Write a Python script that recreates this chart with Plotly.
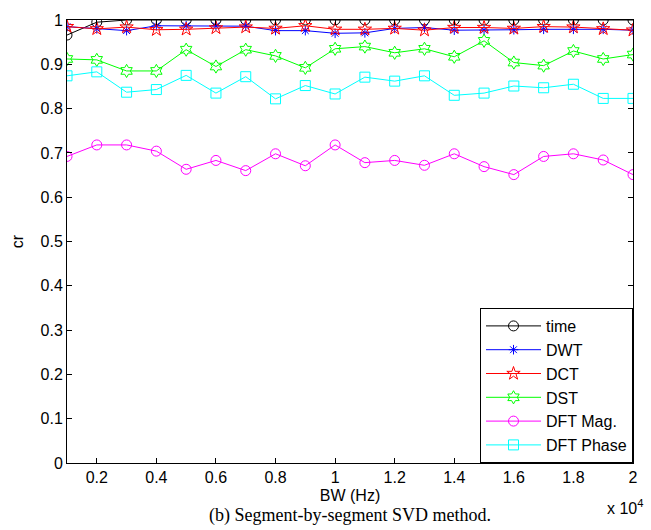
import plotly.graph_objects as go

bw = [1000, 2000, 3000, 4000, 5000, 6000, 7000, 8000, 9000, 10000,
      11000, 12000, 13000, 14000, 15000, 16000, 17000, 18000, 19000, 20000]

time_cr = [0.966, 0.995, 1.0, 1.0, 1.0, 1.0, 1.0, 1.0, 1.0, 1.0,
           1.0, 1.0, 1.0, 1.0, 1.0, 1.0, 1.0, 1.0, 1.0, 1.0]
dwt_cr = [0.985, 0.980, 0.976, 0.987, 0.987, 0.987, 0.986, 0.976, 0.976, 0.970,
          0.971, 0.981, 0.983, 0.977, 0.977, 0.978, 0.979, 0.979, 0.979, 0.977]
dct_cr = [0.985, 0.980, 0.984, 0.978, 0.979, 0.982, 0.984, 0.981, 0.987, 0.979,
          0.979, 0.981, 0.977, 0.983, 0.983, 0.981, 0.985, 0.984, 0.980, 0.977]
dst_cr = [0.912, 0.910, 0.885, 0.885, 0.933, 0.895, 0.933, 0.919, 0.892, 0.935,
          0.940, 0.926, 0.935, 0.917, 0.953, 0.904, 0.897, 0.930, 0.912, 0.922]
dftmag_cr = [0.692, 0.718, 0.718, 0.704, 0.663, 0.683, 0.660, 0.698, 0.671, 0.718,
             0.678, 0.683, 0.672, 0.698, 0.669, 0.651, 0.692, 0.698, 0.684, 0.651]
dftphase_cr = [0.874, 0.883, 0.837, 0.843, 0.875, 0.835, 0.872, 0.822, 0.852, 0.833,
               0.871, 0.862, 0.874, 0.830, 0.835, 0.851, 0.847, 0.855, 0.823, 0.823]

xtick_vals = [2000, 4000, 6000, 8000, 10000, 12000, 14000, 16000, 18000, 20000]
xtick_text = ["0.2", "0.4", "0.6", "0.8", "1", "1.2", "1.4", "1.6", "1.8", "2"]
ytick_vals = [0, 0.1, 0.2, 0.3, 0.4, 0.5, 0.6, 0.7, 0.8, 0.9, 1]
ytick_text = ["0", "0.1", "0.2", "0.3", "0.4", "0.5", "0.6", "0.7", "0.8", "0.9", "1"]

series = [
    ("time", time_cr, "black", "circle-open", 10),
    ("DWT", dwt_cr, "blue", "asterisk-open", 8),
    ("DCT", dct_cr, "red", "star-open", 10),
    ("DST", dst_cr, "#00ff00", "hexagram-open", 10),
    ("DFT Mag.", dftmag_cr, "magenta", "circle-open", 10),
    ("DFT Phase", dftphase_cr, "cyan", "square-open", 10),
]

fig = go.Figure()
for name, vals, color, sym, size in series:
    fig.add_trace(go.Scatter(
        x=bw, y=vals, name=name, mode="lines+markers",
        line=dict(color=color, width=1),
        marker=dict(symbol=sym, size=size, color=color, line=dict(width=1, color=color)),
    ))

axis_font = dict(family="Liberation Sans, Arial, sans-serif", size=16, color="black")

fig.update_layout(
    width=651, height=530,
    margin=dict(l=67, r=18, t=15, b=67),
    paper_bgcolor="white", plot_bgcolor="white",
    font=axis_font,
    showlegend=True,
    legend=dict(
        x=1, y=0, xanchor="right", yanchor="bottom",
        bgcolor="white", bordercolor="black", borderwidth=1,
        font=dict(family="Liberation Sans, Arial, sans-serif", size=16, color="black"),
        itemwidth=55,
    ),
    xaxis=dict(
        range=[1000, 20000], tickvals=xtick_vals, ticktext=xtick_text,
        ticks="inside", ticklen=5, tickcolor="black",
        showline=True, linecolor="black", linewidth=1, mirror="ticks",
        showgrid=False, zeroline=False,
        tickfont=axis_font,
        title=dict(text="BW (Hz)", font=axis_font, standoff=4),
    ),
    yaxis=dict(
        range=[0, 1], tickvals=ytick_vals, ticktext=ytick_text,
        ticks="inside", ticklen=5, tickcolor="black",
        showline=True, linecolor="black", linewidth=1, mirror="ticks",
        showgrid=False, zeroline=False,
        tickfont=axis_font,
        title=dict(text="cr", font=axis_font, standoff=12),
    ),
    annotations=[
        dict(text="x 10<sup>4</sup>", x=0.985, y=-0.072, xref="paper", yref="paper",
             xanchor="center", yanchor="top", showarrow=False, font=axis_font),
        dict(text="(b) Segment-by-segment SVD method.", x=0.5, y=-0.09,
             xref="paper", yref="paper", xanchor="center", yanchor="top", showarrow=False,
             font=dict(family="Liberation Serif, Times New Roman, serif", size=18, color="black")),
    ],
)

fig.write_html("out.html")
